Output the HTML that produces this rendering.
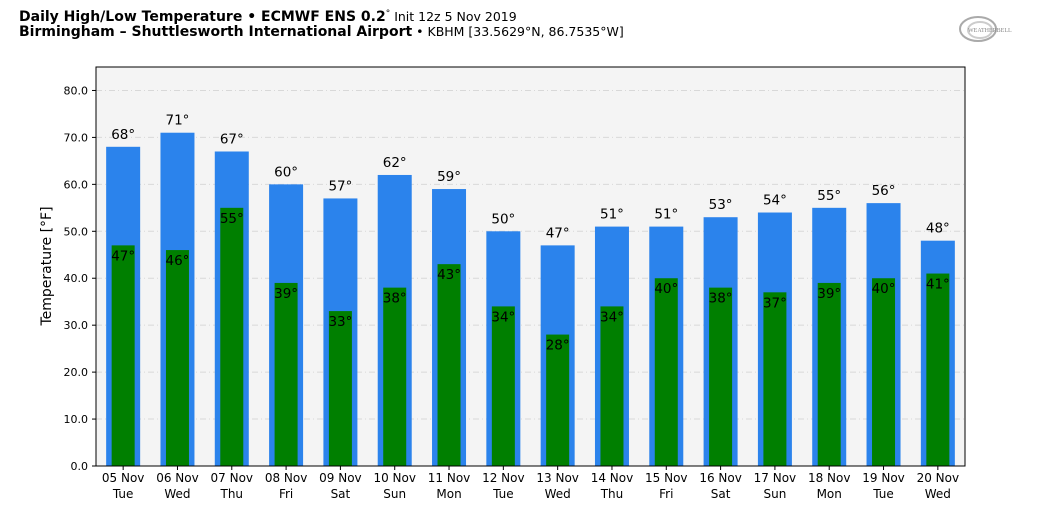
<!DOCTYPE html>
<html><head><meta charset="utf-8"><style>
body{margin:0;background:#fff;width:1040px;height:516px;overflow:hidden}
svg{display:block;font-family:"DejaVu Sans","Liberation Sans",sans-serif}
</style></head><body>
<svg id="chart" width="1040" height="516" viewBox="0 0 1040 516">
<text x="19" y="21" font-size="14"><tspan font-weight="bold">Daily High/Low Temperature • ECMWF ENS 0.2</tspan><tspan font-size="9" dy="-5">°</tspan><tspan dy="5" font-size="12.5"> Init 12z 5 Nov 2019</tspan></text>
<text x="19" y="36" font-size="14"><tspan font-weight="bold">Birmingham – Shuttlesworth International Airport</tspan><tspan font-size="12.5"> • KBHM [33.5629°N, 86.7535°W]</tspan></text>
<g>
<ellipse cx="978" cy="29" rx="18" ry="12" fill="none" stroke="#aaa" stroke-width="2"/>
<ellipse cx="980" cy="30" rx="12" ry="8" fill="none" stroke="#ccc" stroke-width="2"/>
<text x="968" y="32" font-size="6" fill="#888" font-family="Liberation Serif,serif">WEATHERBELL</text>
</g>
<rect x="96" y="67" width="869" height="399" fill="#f4f4f4" stroke="#000" stroke-width="1"/>
<g id="grid"></g><g id="bars"></g><g id="axes"></g>
<text transform="translate(51,266) rotate(-90)" text-anchor="middle" font-size="14">Temperature [°F]</text>
</svg>
<script>
const dates=["05 Nov","06 Nov","07 Nov","08 Nov","09 Nov","10 Nov","11 Nov","12 Nov","13 Nov","14 Nov","15 Nov","16 Nov","17 Nov","18 Nov","19 Nov","20 Nov"];
const days=["Tue","Wed","Thu","Fri","Sat","Sun","Mon","Tue","Wed","Thu","Fri","Sat","Sun","Mon","Tue","Wed"];
const highs=[68,71,67,60,57,62,59,50,47,51,51,53,54,55,56,48];
const lows=[47,46,55,39,33,38,43,34,28,34,40,38,37,39,40,41];
const yTicks=[0,10,20,30,40,50,60,70,80];
const NS="http://www.w3.org/2000/svg";
const X0=96,W=869,Y0=466,YT=67,YMAX=85;
const slot=W/dates.length;
const xc=i=>X0+slot*(i+0.5);
const y=v=>Y0-(v/YMAX)*(Y0-YT);
function mk(t,a,p){const e=document.createElementNS(NS,t);for(const k in a)e.setAttribute(k,a[k]);p.appendChild(e);return e;}
const grid=document.getElementById('grid'),bars=document.getElementById('bars'),axes=document.getElementById('axes');
yTicks.forEach(v=>{
 if(v>0){const g=mk('line',{x1:X0,x2:X0+W,y1:y(v),y2:y(v),stroke:'#d8d8d8','stroke-dasharray':'6 3 1 3'},grid);
 
 }
 const t=mk('line',{x1:X0-4,x2:X0,y1:y(v),y2:y(v),stroke:'#000'},axes);
 
 
 const l=mk('text',{x:X0-8,y:y(v)+4,'text-anchor':'end','font-size':11},axes);
 
 
 l.textContent=v.toFixed(1);
});
dates.forEach((d,i)=>{
 const c=xc(i);
 const hb=mk('rect',{x:c-17,y:y(highs[i]),width:34,height:Y0-y(highs[i]),fill:'#2b83ec'},bars);
 
 
 const lb=mk('rect',{x:c-11.5,y:y(lows[i]),width:23,height:Y0-y(lows[i]),fill:'#007f00'},bars);
 
 
 const ht=mk('text',{x:c,y:y(highs[i])-8,'text-anchor':'middle','font-size':13.5},bars);
 
 
 ht.textContent=highs[i]+'°';
 const lt=mk('text',{x:c,y:y(lows[i])+15,'text-anchor':'middle','font-size':13.5},bars);
 
 
 lt.textContent=lows[i]+'°';
 const tk=mk('line',{x1:c,x2:c,y1:Y0,y2:Y0+4,stroke:'#000'},axes);
 
 
 const xl=mk('text',{x:c,y:Y0+16,'text-anchor':'middle','font-size':12},axes);
 
 
 xl.textContent=d;
 const dl=mk('text',{x:c,y:Y0+32,'text-anchor':'middle','font-size':12},axes);
 
 
 dl.textContent=days[i];
});
mk('rect',{x:X0,y:YT,width:W,height:Y0-YT,fill:'none',stroke:'#000'},axes);
</script>
</body></html>
